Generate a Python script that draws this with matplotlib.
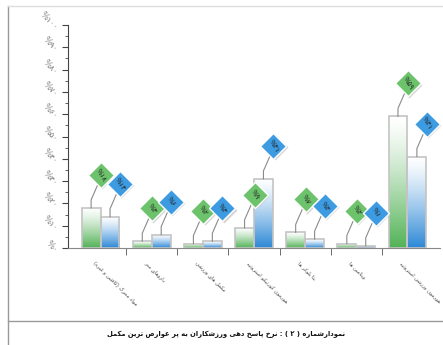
import re
import numpy as np
import matplotlib
matplotlib.use('Agg')
import matplotlib.pyplot as plt
from matplotlib.colors import LinearSegmentedColormap
from matplotlib.lines import Line2D

# --- data ---
categories = ['مواد محرک (کافئین و غیره)', 'داروهای مدر', 'مکمل های ورزشی',
              'هورمون کورتیکو استروئید', 'بتا بلوکر ها', 'ویتامین ها',
              'هورمون ورزشی استروئید']
green_vals = [18, 3, 2, 9, 7, 2, 59]
blue_vals = [14, 6, 3, 31, 4, 1, 41]
yticks = list(range(0, 101, 10))
caption = 'نمودارشماره ( ۲ ) : نرخ پاسخ دهی ورزشکاران به پر عوارض ترین مکمل'

# --- simple persian shaping (matplotlib has no RTL shaping) ---
FORMS = {
    'ا': (0xFE8D, 0xFE8E), 'آ': (0xFE81, 0xFE82),
    'ب': (0xFE8F, 0xFE90, 0xFE91, 0xFE92), 'پ': (0xFB56, 0xFB57, 0xFB58, 0xFB59),
    'ت': (0xFE95, 0xFE96, 0xFE97, 0xFE98), 'ث': (0xFE99, 0xFE9A, 0xFE9B, 0xFE9C),
    'ج': (0xFE9D, 0xFE9E, 0xFE9F, 0xFEA0), 'چ': (0xFB7A, 0xFB7B, 0xFB7C, 0xFB7D),
    'ح': (0xFEA1, 0xFEA2, 0xFEA3, 0xFEA4), 'خ': (0xFEA5, 0xFEA6, 0xFEA7, 0xFEA8),
    'د': (0xFEA9, 0xFEAA), 'ذ': (0xFEAB, 0xFEAC), 'ر': (0xFEAD, 0xFEAE),
    'ز': (0xFEAF, 0xFEB0), 'ژ': (0xFB8A, 0xFB8B),
    'س': (0xFEB1, 0xFEB2, 0xFEB3, 0xFEB4), 'ش': (0xFEB5, 0xFEB6, 0xFEB7, 0xFEB8),
    'ص': (0xFEB9, 0xFEBA, 0xFEBB, 0xFEBC), 'ض': (0xFEBD, 0xFEBE, 0xFEBF, 0xFEC0),
    'ط': (0xFEC1, 0xFEC2, 0xFEC3, 0xFEC4), 'ظ': (0xFEC5, 0xFEC6, 0xFEC7, 0xFEC8),
    'ع': (0xFEC9, 0xFECA, 0xFECB, 0xFECC), 'غ': (0xFECD, 0xFECE, 0xFECF, 0xFED0),
    'ف': (0xFED1, 0xFED2, 0xFED3, 0xFED4), 'ق': (0xFED5, 0xFED6, 0xFED7, 0xFED8),
    'ک': (0xFB8E, 0xFB8F, 0xFB90, 0xFB91), 'گ': (0xFB92, 0xFB93, 0xFB94, 0xFB95),
    'ل': (0xFEDD, 0xFEDE, 0xFEDF, 0xFEE0), 'م': (0xFEE1, 0xFEE2, 0xFEE3, 0xFEE4),
    'ن': (0xFEE5, 0xFEE6, 0xFEE7, 0xFEE8), 'و': (0xFEED, 0xFEEE),
    'ه': (0xFEE9, 0xFEEA, 0xFEEB, 0xFEEC), 'ی': (0xFBFC, 0xFBFD, 0xFBFE, 0xFBFF),
    'ئ': (0xFE89, 0xFE8A, 0xFE8B, 0xFE8C),
}
MIRROR = {'(': ')', ')': '('}


def fa(s):
    out = []
    for i, c in enumerate(s):
        f = FORMS.get(c)
        if f is None:
            out.append(c)
            continue
        prev = s[i - 1] if i > 0 else ''
        nxt = s[i + 1] if i + 1 < len(s) else ''
        jp = prev in FORMS and len(FORMS[prev]) == 4
        jn = len(f) == 4 and nxt in FORMS
        k = 3 if (jp and jn) else 1 if jp else 2 if jn else 0
        out.append(chr(f[k]))
    shaped = ''.join(out).replace('\u200c', '')
    toks = re.findall(r'[0-9۰-۹]+|.', shaped)
    return ''.join(MIRROR.get(t, t) for t in reversed(toks))


GREEN, BLUE = '#52b256', '#2c88d6'
green_cm = LinearSegmentedColormap.from_list('g', ['#ffffff', GREEN])
blue_cm = LinearSegmentedColormap.from_list('b', ['#ffffff', BLUE])

plt.rcParams['font.family'] = ['DejaVu Sans']
W, H = 443, 345
fig = plt.figure(figsize=(W / 100, H / 100), dpi=100)
ax = fig.add_axes([68 / W, (H - 248) / H, 372 / W, 223 / H])

x = np.arange(len(categories))
bw = 0.37
bars_g = ax.bar(x - bw / 2, green_vals, bw, facecolor='none', edgecolor='#c4c4c4', lw=1.2, zorder=3)
bars_b = ax.bar(x + bw / 2, blue_vals, bw, facecolor='none', edgecolor='#c4c4c4', lw=1.2, zorder=3)

# white at top -> colour at bottom
grad = np.linspace(1, 0, 256).reshape(-1, 1) ** 1.3
for bars, cm in ((bars_g, green_cm), (bars_b, blue_cm)):
    for b in bars:
        x0, w, h = b.get_x(), b.get_width(), b.get_height()
        im = ax.imshow(grad, cmap=cm, vmin=0, vmax=1, extent=[x0, x0 + w, 0, h],
                       origin='lower', aspect='auto', zorder=2)
        im.set_clip_path(b)

ax.set_xlim(-0.5 - 0.137, len(categories) - 0.5 + 0.137)
ax.set_ylim(0, 100)

# axes styling
for s in ('top', 'right'):
    ax.spines[s].set_visible(False)
ax.spines['left'].set_color('#444444')
ax.spines['bottom'].set_color('#888888')
fa_dig = str.maketrans('0123456789', '۰۱۲۳۴۵۶۷۸۹')
ax.set_yticks(yticks)
ax.set_yticklabels(['%' + str(v).translate(fa_dig) for v in yticks],
                   fontsize=6, color='#808080')
ax.set_yticks(np.arange(5, 100, 10), minor=True)
ax.tick_params(axis='y', which='major', length=4, color='#444444', pad=2)
ax.tick_params(axis='y', which='minor', length=2, color='#444444')
for lbl in ax.get_yticklabels():
    lbl.set_rotation(-45)
    lbl.set_rotation_mode('anchor')
    lbl.set_ha('right')
    lbl.set_va('top')

# category labels start a little left of the group centre
ax.set_xticks(x - 0.1)
ax.set_xticklabels([fa(c) for c in categories], fontsize=3.8, color='#444444')
ax.tick_params(axis='x', which='major', length=0, pad=9)
ax.set_xticks(np.arange(0.5, len(categories) - 0.5, 1), minor=True)
ax.tick_params(axis='x', which='minor', length=5, color='#555555')
for lbl in ax.get_xticklabels():
    lbl.set_rotation(-45)
    lbl.set_rotation_mode('anchor')
    lbl.set_ha('left')
    lbl.set_va('top')

# diamond callouts
to_px = ax.transData.transform
to_data = ax.transData.inverted().transform
for bars, vals, col in ((bars_g, green_vals, '#6cc36b'), (bars_b, blue_vals, '#3d9be2')):
    for b, v in zip(bars, vals):
        cx = b.get_x() + b.get_width() / 2
        px, py = to_px((cx, v))
        dx, dy = px + 10, py + 33
        pts = to_data([(px, py), (px, py + 8), (dx - 3, dy - 9)])
        ax.plot(pts[:, 0], pts[:, 1], color='#8a8a8a', lw=0.8, zorder=4, clip_on=False)
        c = to_data((dx, dy))
        sh = to_data((dx + 1.2, dy - 1.2))
        ax.plot(sh[0], sh[1], marker='D', ms=13, mfc='#bbbbbb', mec='none', alpha=0.6,
                zorder=5, clip_on=False)
        ax.plot(c[0], c[1], marker='D', ms=13, mfc=col, mec='white', mew=1.0,
                zorder=6, clip_on=False)
        ax.text(c[0], c[1], '%' + str(v).translate(fa_dig), rotation=-60, fontsize=5,
                color='#222222', ha='center', va='center', zorder=7, clip_on=False)

# page frame and caption
fig.add_artist(Line2D([8 / W, 8 / W], [0, 1 - 6 / H], color='#9a9a9a', lw=1))
fig.add_artist(Line2D([8 / W, 1], [1 - 6 / H, 1 - 6 / H], color='#dddddd', lw=1))
fig.add_artist(Line2D([8 / W, 1], [1 - 321 / H, 1 - 321 / H], color='#9a9a9a', lw=1))
fig.text(226 / W, 1 - 334 / H, fa(caption), fontsize=4.9, fontweight='bold',
         ha='center', va='center', color='#111111')

fig.savefig('out.png', dpi=100)
